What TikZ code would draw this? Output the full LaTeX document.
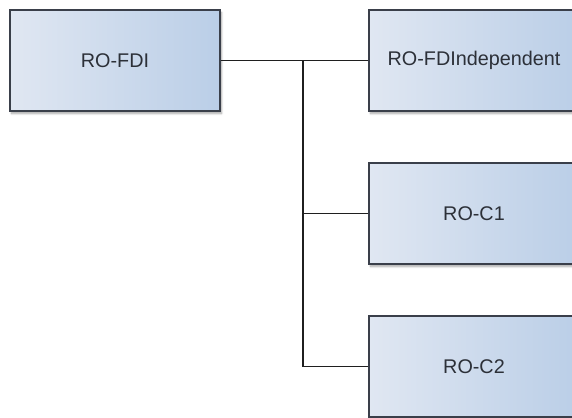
\documentclass[tikz,border=0pt]{standalone}
\usepackage{fontspec}
\setmainfont{Liberation Sans}
\usetikzlibrary{shadows.blur}
\definecolor{boxleft}{HTML}{E0E7F2}
\definecolor{boxright}{HTML}{BACEE7}
\definecolor{boxline}{HTML}{3A3F4A}
\definecolor{labeltext}{HTML}{2C3038}
\tikzset{
  unit/.style={rectangle, draw=boxline, line width=1.4pt,
    minimum width=210pt, minimum height=101pt, inner sep=0pt,
    left color=boxleft, right color=boxright,
    blur shadow={shadow xshift=1.5pt, shadow yshift=-2.5pt, shadow blur steps=6, shadow opacity=35},
    text=labeltext, font=\fontsize{19.8}{23}\selectfont},
  link/.style={draw=black!88, line width=1.5pt}
}
\begin{document}
\begin{tikzpicture}[x=1pt, y=-1pt]
  \useasboundingbox (0,0) rectangle (572,417);
  \node[unit] (fdi) at (115,60.5) {RO-FDI};
  \node[unit] (ind) at (474,60.5) {RO-FDIndependent};
  \node[unit] (c1)  at (474,213.5) {RO-C1};
  \node[unit] (c2)  at (474,366.5) {RO-C2};
  \coordinate (junction) at (303,60.5);
  \draw[link] (fdi.east) -- (ind.west);
  \draw[link] (junction) |- (c1.west);
  \draw[link] (junction) |- (c2.west);
\end{tikzpicture}
\end{document}
